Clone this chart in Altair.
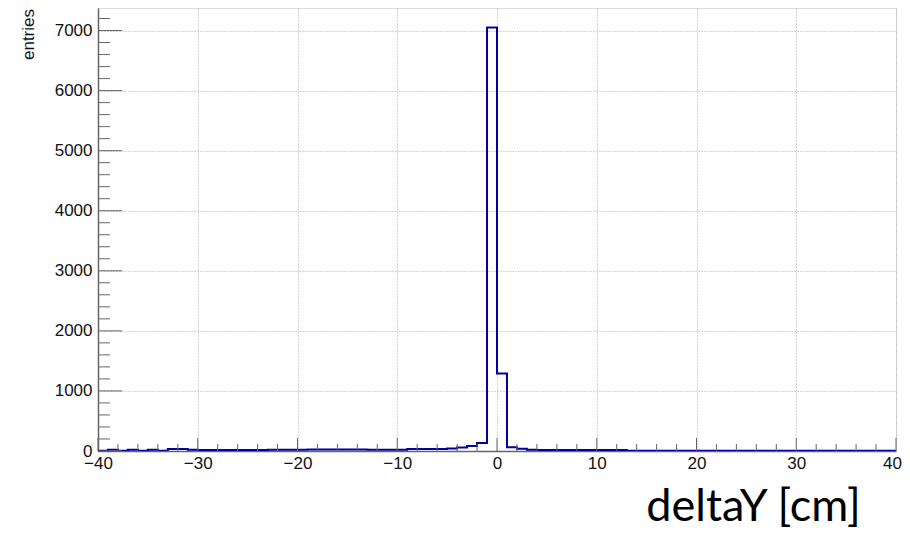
import altair as alt
import pandas as pd

# Histogram: left bin edges -40..39 (bin width 1), counts
bin_left = list(range(-40, 40))
counts = [5, 20, 5, 20, 5, 20, 5, 35, 35, 20,          # -40..-31
          15, 15, 15, 15, 15, 15, 15, 20, 20, 20,      # -30..-21
          20, 25, 25, 25, 25, 25, 25, 22, 22, 22,      # -20..-11
          22, 32, 32, 32, 32, 40, 60, 85, 132, 7050,   # -10..-1
          1290, 62, 38, 22, 15, 18, 15, 18, 15, 18,    # 0..9
          15, 18, 15, 3, 3, 3, 3, 3, 3, 3,             # 10..19
          3, 3, 3, 3, 3, 3, 3, 3, 3, 3,                # 20..29
          3, 3, 3, 3, 3, 3, 3, 3, 3, 3]                # 30..39

x_major = list(range(-40, 41, 10))
x_minor = [v for v in range(-40, 41, 2) if v % 10 != 0]
y_major = list(range(0, 7001, 1000))
y_minor = [v for v in range(0, 7201, 200) if v % 1000 != 0]

W, H = 798, 443
X_DOM = [-40, 40]
Y_DOM = [0, 7375]

edges = bin_left + [40]
vals = counts + [counts[-1]]
hist = pd.DataFrame({"x": edges, "y": vals})

xs = alt.Scale(domain=X_DOM, nice=False, zero=False)
ys = alt.Scale(domain=Y_DOM, nice=False)

x_axis = alt.Axis(
    values=x_major, format="d", ticks=False, tickSize=0, labelPadding=4,
    labelFontSize=17, labelFont="Liberation Sans", labelColor="#111",
    labelFlush=False, labelOverlap=False,
    labelOffset={"condition": {"test": "datum.value === 40", "value": -4}, "value": 0},
    grid=True, gridColor="#a8a8a8", gridDash=[1, 2], gridWidth=1,
    domain=True, domainColor="#666", domainWidth=1.5,
    title="deltaY [cm]", titleFont="Lato", titleFontSize=45,
    titleFontWeight="normal", titleColor="#000",
    titleX=655, titleY=69, titleAlign="center", titleBaseline="alphabetic",
)
y_axis = alt.Axis(
    values=y_major, format="d", ticks=False, tickSize=0, labelPadding=6,
    labelFontSize=17, labelFont="Liberation Sans", labelColor="#111",
    labelFlush=False, labelOverlap=False,
    grid=True, gridColor="#a8a8a8", gridDash=[1, 2], gridWidth=1,
    domain=True, domainColor="#666", domainWidth=1.5,
    title="entries", titleFont="Liberation Sans", titleFontSize=17,
    titleFontWeight="normal", titleColor="#111",
    titleX=-65, titleY=26, titleAngle=270, titleAlign="center",
    titleBaseline="alphabetic",
)

line = alt.Chart(hist).mark_line(
    interpolate="step-after", color="#00009c", strokeWidth=2, clip=True
).encode(
    x=alt.X("x:Q", scale=xs, axis=x_axis),
    y=alt.Y("y:Q", scale=ys, axis=y_axis),
)

def xticks(vals_, length):
    return alt.Chart(pd.DataFrame({"x": vals_})).mark_rule(
        color="#666", strokeWidth=1
    ).encode(
        x=alt.X("x:Q", scale=xs, axis=x_axis),
        y=alt.value(H), y2=alt.value(H - length),
    )

def yticks(vals_, length):
    return alt.Chart(pd.DataFrame({"y": vals_})).mark_rule(
        color="#666", strokeWidth=1
    ).encode(
        y=alt.Y("y:Q", scale=ys, axis=y_axis),
        x=alt.value(0), x2=alt.value(length),
    )

chart = alt.layer(
    line,
    xticks(x_minor, 7), xticks(x_major, 13),
    yticks(y_minor, 12), yticks(y_major, 24),
).properties(
    width=W, height=H,
    autosize=alt.AutoSizeParams(type="none"),
    padding={"left": 90, "top": 0, "right": 6, "bottom": 78},
).configure_view(
    stroke="#999", strokeWidth=1.5
).configure(background="white")

chart.save("out.html", embed_options={"renderer": "svg", "actions": False})
